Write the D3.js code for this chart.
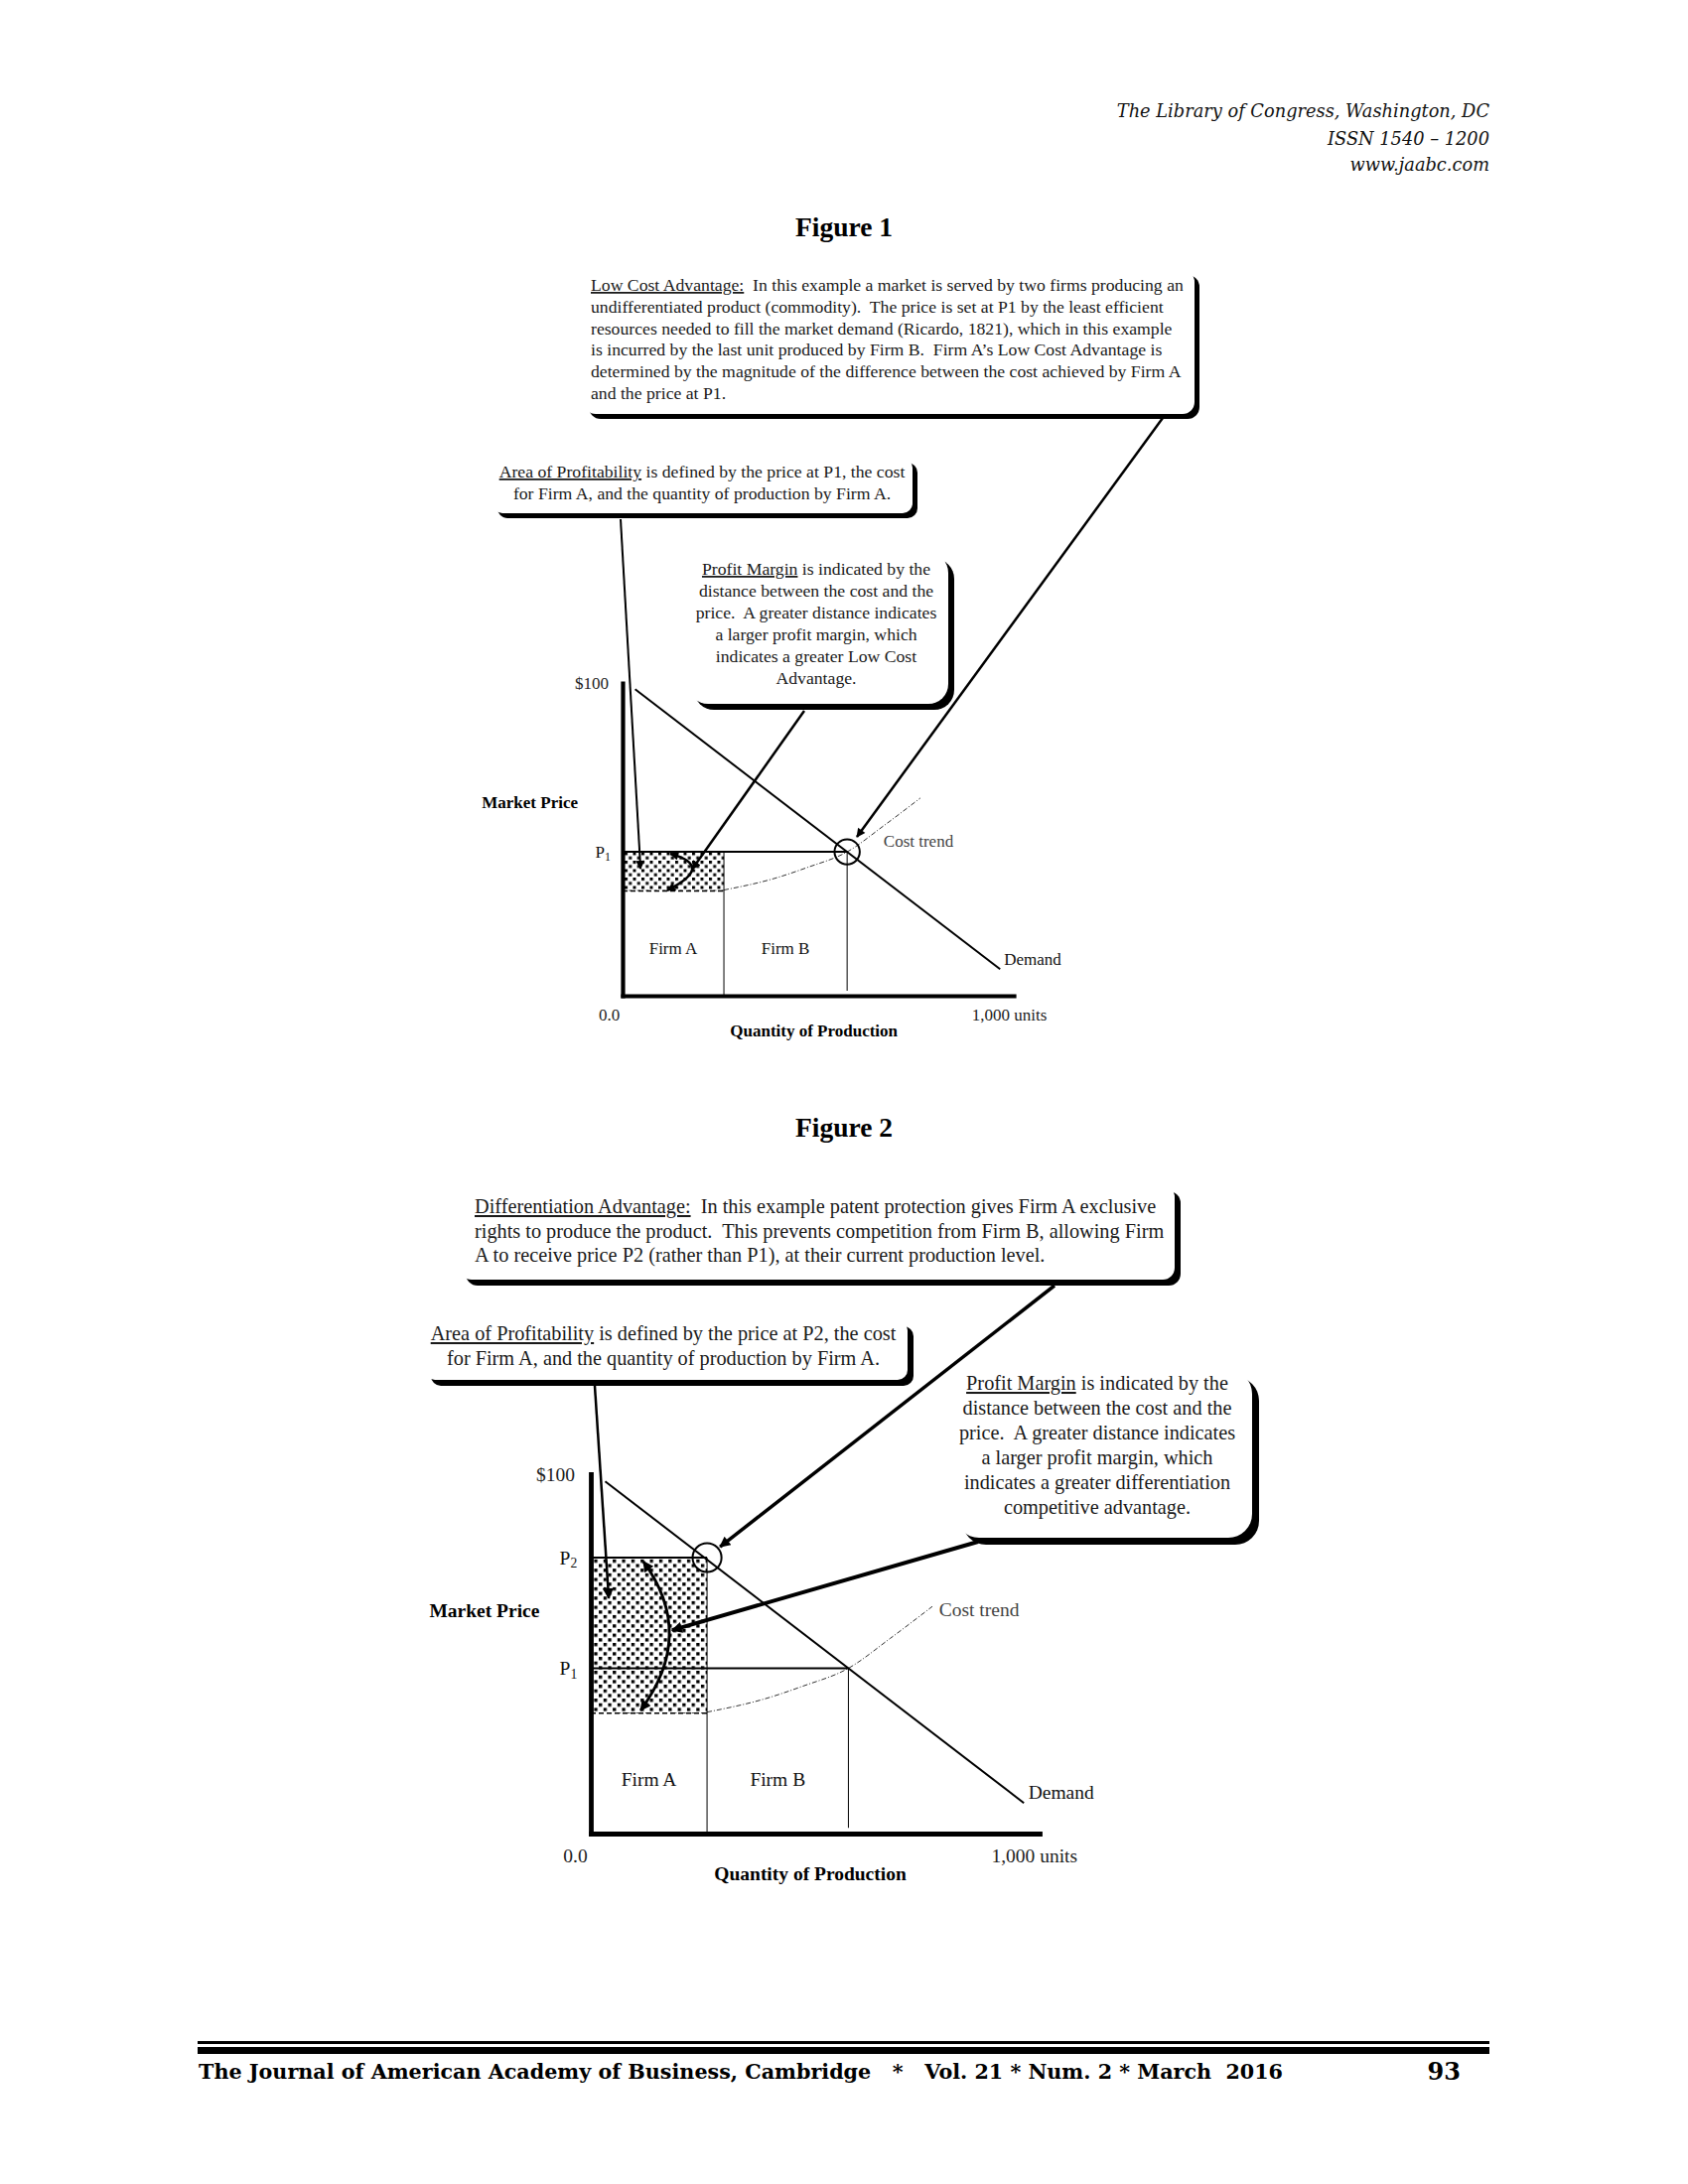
<!DOCTYPE html>
<html><head><meta charset="utf-8">
<script src="https://cdn.jsdelivr.net/npm/d3@7"></script>
<style>body{margin:0;background:#fff}</style>
</head><body>
<script>
// ---------------- data ----------------
const firms = ["Firm A", "Firm B"];
const firmBounds = [0, 259, 574];            // quantity where each firm's output ends (units)
const quantityTicks = ["0.0", "1,000 units"];
const quantityTickValues = [0, 1000];
const priceTicks = ["$100"];
const priceTickValues = [100];
const priceP1 = 46;
const priceP2 = 76.8;
const costFirmA = 33.5;
const demandPoints = [[32, 98], [965, 8.5]];
const costTrendPoints = [[259, 33.8], [388, 37.5], [472, 41], [574, 46], [667, 54.3], [761, 63.2]];

const headerLines = ["The Library of Congress, Washington, DC", "ISSN 1540 \u2013 1200", "www.jaabc.com"];
const footerText = "The Journal of American Academy of Business, Cambridge   *   Vol. 21 * Num. 2 * March  2016";
const pageNumber = "93";
const figureTitles = ["Figure 1", "Figure 2"];

const fig1Callouts = [
  {head: "Low Cost Advantage:", lines: [
    "  In this example a market is served by two firms producing an",
    "undifferentiated product (commodity).  The price is set at P1 by the least efficient",
    "resources needed to fill the market demand (Ricardo, 1821), which in this example",
    "is incurred by the last unit produced by Firm B.  Firm A\u2019s Low Cost Advantage is",
    "determined by the magnitude of the difference between the cost achieved by Firm A",
    "and the price at P1."]},
  {head: "Area of Profitability", lines: [
    " is defined by the price at P1, the cost",
    "for Firm A, and the quantity of production by Firm A."]},
  {head: "Profit Margin", lines: [
    " is indicated by the",
    "distance between the cost and the",
    "price.  A greater distance indicates",
    "a larger profit margin, which",
    "indicates a greater Low Cost",
    "Advantage."]}
];
const fig2Callouts = [
  {head: "Differentiation Advantage:", lines: [
    "  In this example patent protection gives Firm A exclusive",
    "rights to produce the product.  This prevents competition from Firm B, allowing Firm",
    "A to receive price P2 (rather than P1), at their current production level."]},
  {head: "Area of Profitability", lines: [
    " is defined by the price at P2, the cost",
    "for Firm A, and the quantity of production by Firm A."]},
  {head: "Profit Margin", lines: [
    " is indicated by the",
    "distance between the cost and the",
    "price.  A greater distance indicates",
    "a larger profit margin, which",
    "indicates a greater differentiation",
    "competitive advantage."]}
];

// ---------------- layout ----------------
const SERIF = "'Liberation Serif','Times New Roman',serif";
const svg = d3.select("body").append("svg").attr("width", 1700).attr("height", 2200)
  .style("background", "#fff");
const defs = svg.append("defs");

function makePattern(id, s) {
  const p = defs.append("pattern").attr("id", id).attr("patternUnits", "userSpaceOnUse")
    .attr("width", 8.5 * s).attr("height", 8.5 * s);
  p.append("rect").attr("width", 8.5 * s).attr("height", 8.5 * s).attr("fill", "#fff");
  p.append("rect").attr("x", 0).attr("y", 0).attr("width", 3 * s).attr("height", 3 * s).attr("fill", "#000");
  p.append("rect").attr("x", 4.25 * s).attr("y", 4.25 * s).attr("width", 3 * s).attr("height", 3 * s).attr("fill", "#000");
}
function makeMarker(id, w, h) {
  defs.append("marker").attr("id", id).attr("viewBox", "0 0 10 10")
    .attr("markerUnits", "userSpaceOnUse").attr("markerWidth", w).attr("markerHeight", h)
    .attr("refX", 9).attr("refY", 5).attr("orient", "auto-start-reverse")
    .append("path").attr("d", "M0,0L10,5L0,10z").attr("fill", "#000");
}
makePattern("dots1", 1);
makePattern("dots2", 1.1);
makeMarker("ah1", 11, 9);
makeMarker("ah2", 14, 11);

// header
headerLines.forEach((t, i) => {
  svg.append("text").attr("x", 1500).attr("y", [118, 146, 172][i]).attr("text-anchor", "end")
    .attr("font-family", "'DejaVu Serif',serif").attr("font-style", "italic").attr("font-size", 17.8)
    .attr("fill", "#111").text(t);
});
// figure titles
figureTitles.forEach((t, i) => {
  svg.append("text").attr("x", 850).attr("y", [238, 1145][i]).attr("text-anchor", "middle")
    .attr("font-family", SERIF).attr("font-weight", "bold").attr("font-size", 27.5).attr("fill", "#000").text(t);
});
// footer
svg.append("rect").attr("x", 199).attr("y", 2056).attr("width", 1301).attr("height", 3).attr("fill", "#000");
svg.append("rect").attr("x", 199).attr("y", 2062).attr("width", 1301).attr("height", 7).attr("fill", "#000");
svg.append("text").attr("x", 200).attr("y", 2094).attr("font-family", "'DejaVu Serif',serif").attr("font-weight", "bold")
  .attr("font-size", 21).attr("textLength", 1092).attr("lengthAdjust", "spacingAndGlyphs")
  .style("white-space", "pre").attr("fill", "#000").text(footerText);
svg.append("text").attr("x", 1471).attr("y", 2095).attr("text-anchor", "end").attr("font-family", "'DejaVu Serif',serif")
  .attr("font-weight", "bold").attr("font-size", 24).attr("fill", "#000").text(pageNumber);

function drawBox(g, b, callout) {
  g.append("rect").attr("x", b.x + b.sh).attr("y", b.y + b.sh).attr("width", b.w).attr("height", b.h)
    .attr("rx", b.r).attr("fill", "#000");
  g.append("rect").attr("x", b.x).attr("y", b.y).attr("width", b.w).attr("height", b.h)
    .attr("rx", b.r).attr("fill", "#fff");
  callout.lines.forEach((line, i) => {
    const t = g.append("text").attr("x", b.tx).attr("y", b.base + i * b.lh)
      .attr("text-anchor", b.anchor).attr("font-family", SERIF).attr("font-size", b.fs)
      .attr("fill", "#1a1a1a").style("white-space", "pre");
    if (i === 0) t.append("tspan").style("text-decoration", "underline").text(callout.head);
    t.append("tspan").text(line);
  });
}

function drawFigure(c) {
  const g = svg.append("g");
  const k = c.k;
  const x = d3.scaleLinear().domain([0, 1000]).range([c.x0, c.x1]);
  const y = d3.scaleLinear().domain([0, 100]).range([c.yB, c.yT]);
  const fs = 17 * k;
  const P = (d) => [x(d[0]), y(d[1])];

  // hatched area of profitability
  g.append("rect").attr("x", x(firmBounds[0])).attr("y", y(c.topPrice))
    .attr("width", x(firmBounds[1]) - x(firmBounds[0])).attr("height", y(costFirmA) - y(c.topPrice))
    .attr("fill", `url(#${c.pattern})`);
  // cost for Firm A (dashed rect bottom)
  g.append("line").attr("x1", x(firmBounds[0])).attr("x2", x(firmBounds[1]))
    .attr("y1", y(costFirmA)).attr("y2", y(costFirmA))
    .attr("stroke", "#000").attr("stroke-width", 1.6).attr("stroke-dasharray", "5,3");
  // cost trend
  g.append("path").attr("d", d3.line().x(d => x(d[0])).y(d => y(d[1])).curve(d3.curveMonotoneX)(costTrendPoints))
    .attr("fill", "none").attr("stroke", "#333").attr("stroke-width", 1).attr("stroke-dasharray", "5,2,1,2");
  // firm divider
  g.append("line").attr("x1", x(firmBounds[1])).attr("x2", x(firmBounds[1]))
    .attr("y1", y(c.topPrice)).attr("y2", y(0)).attr("stroke", "#000").attr("stroke-width", 1);
  // end of Firm B production
  g.append("line").attr("x1", x(firmBounds[2])).attr("x2", x(firmBounds[2]))
    .attr("y1", y(priceP1)).attr("y2", y(0) - 5 * k).attr("stroke", "#000").attr("stroke-width", 1);
  // price lines
  c.priceLines.forEach(p => {
    g.append("line").attr("x1", x(0)).attr("x2", x(p.until)).attr("y1", y(p.v)).attr("y2", y(p.v))
      .attr("stroke", "#000").attr("stroke-width", 2);
    const t = g.append("text").attr("x", x(0) - 12 * k).attr("y", y(p.v)).attr("dy", "0.35em")
      .attr("text-anchor", "end").attr("font-family", SERIF).attr("font-size", fs).attr("fill", "#111");
    t.append("tspan").text("P");
    t.append("tspan").attr("font-size", fs * 0.7).attr("dy", "0.25em").text(p.sub);
  });
  // demand
  g.append("path").attr("d", d3.line().x(d => x(d[0])).y(d => y(d[1]))(demandPoints))
    .attr("fill", "none").attr("stroke", "#000").attr("stroke-width", 2);
  // circle
  g.append("circle").attr("cx", x(c.circle[0])).attr("cy", y(c.circle[1])).attr("r", 12.7 * k)
    .attr("fill", "none").attr("stroke", "#000").attr("stroke-width", 2);

  // axes
  const yAxis = d3.axisLeft(y).tickValues(priceTickValues).tickFormat((d, i) => priceTicks[i])
    .tickSize(0).tickSizeOuter(0).tickPadding(14 * k);
  const ya = g.append("g").attr("transform", `translate(${c.x0},0)`).call(yAxis);
  const xAxis = d3.axisBottom(x).tickValues(quantityTickValues).tickFormat((d, i) => quantityTicks[i])
    .tickSize(0).tickSizeOuter(0).tickPadding(12.9 * k);
  const xa = g.append("g").attr("transform", `translate(0,${c.yB})`).call(xAxis);
  [ya, xa].forEach(a => {
    a.attr("font-family", SERIF).attr("font-size", fs);
    a.select(".domain").attr("stroke", "#000").attr("stroke-width", 4.2 * k).attr("stroke-linecap", "square");
    a.selectAll("text").attr("fill", "#222");
  });
  xa.selectAll(".tick text").attr("dx", (d, i) => i === 0 ? -14 * k : -5 * k);

  // labels
  g.append("text").attr("x", c.x0 - 45 * k).attr("y", y(62)).attr("dy", "0.35em").attr("text-anchor", "end")
    .attr("font-family", SERIF).attr("font-weight", "bold").attr("font-size", fs).attr("fill", "#000").text("Market Price");
  g.append("text").attr("x", x(489)).attr("y", c.yB + 35 * k).attr("dy", "0.35em").attr("text-anchor", "middle")
    .attr("font-family", SERIF).attr("font-weight", "bold").attr("font-size", fs).attr("fill", "#000").text("Quantity of Production");
  firms.forEach((f, i) => {
    g.append("text").attr("x", x((firmBounds[i] + firmBounds[i + 1]) / 2)).attr("y", y(15.2)).attr("dy", "0.35em")
      .attr("text-anchor", "middle").attr("font-family", SERIF).attr("font-size", fs).attr("fill", "#111").text(f);
  });
  g.append("text").attr("x", x(975)).attr("y", y(11.6)).attr("dy", "0.35em")
    .attr("font-family", SERIF).attr("font-size", fs).attr("fill", "#111").text("Demand");
  g.append("text").attr("x", x(c.costLabel[0])).attr("y", y(c.costLabel[1])).attr("dy", "0.35em")
    .attr("font-family", SERIF).attr("font-size", fs).attr("fill", "#444").text("Cost trend");

  // arrows from callouts
  c.arrows.forEach(a => {
    const e = P(a.to);
    g.append("line").attr("x1", a.from[0]).attr("y1", a.from[1]).attr("x2", e[0]).attr("y2", e[1])
      .attr("stroke", "#000").attr("stroke-width", a.w).attr("marker-end", `url(#${c.marker})`);
  });
  // curved double arrow (profit margin span)
  const top = P(c.span[0]), bot = P(c.span[1]), mid = P(c.span[2]);
  const cx = 2 * mid[0] - (top[0] + bot[0]) / 2, cy = 2 * mid[1] - (top[1] + bot[1]) / 2;
  g.append("path").attr("d", `M${top[0]},${top[1]}Q${cx},${cy} ${bot[0]},${bot[1]}`)
    .attr("fill", "none").attr("stroke", "#000").attr("stroke-width", 2.5 * k)
    .attr("marker-start", `url(#${c.marker})`).attr("marker-end", `url(#${c.marker})`);

  // callout boxes
  c.boxes.forEach((b, i) => drawBox(g, b, c.callouts[i]));
}

drawFigure({
  k: 1, x0: 627, x1: 1021, yB: 1003, yT: 688, pattern: "dots1", marker: "ah1",
  topPrice: priceP1,
  priceLines: [{v: priceP1, until: firmBounds[2], sub: "1"}],
  circle: [firmBounds[2], priceP1],
  costLabel: [667, 49.5],
  arrows: [
    {from: [625, 523], to: [46, 40.6], w: 2},
    {from: [810, 716], to: [178, 40.5], w: 2.5},
    {from: [1171, 421], to: [599, 50.8], w: 2.5}
  ],
  span: [[122, 45.4], [114, 33.7], [178, 40.5]],
  callouts: fig1Callouts,
  boxes: [
    {x: 588, y: 272, w: 615, h: 145, r: 12, sh: 5, tx: 595, anchor: "start", base: 293, lh: 21.8, fs: 17.7},
    {x: 496, y: 461, w: 423, h: 56, r: 10, sh: 5, tx: 707, anchor: "middle", base: 481, lh: 22, fs: 17.7},
    {x: 693, y: 557, w: 262, h: 152, r: 20, sh: 6, tx: 822, anchor: "middle", base: 579, lh: 22, fs: 17.7}
  ]
});

drawFigure({
  k: 1.147, x0: 595, x1: 1047, yB: 1847, yT: 1485, pattern: "dots2", marker: "ah2",
  topPrice: priceP2,
  priceLines: [{v: priceP2, until: firmBounds[1], sub: "2"}, {v: priceP1, until: firmBounds[2], sub: "1"}],
  circle: [firmBounds[1], priceP2],
  costLabel: [776, 62.4],
  arrows: [
    {from: [599, 1396], to: [40, 65.5], w: 2.5},
    {from: [985, 1553], to: [181, 56.6], w: 4},
    {from: [1062, 1295], to: [288, 79.8], w: 3.5}
  ],
  span: [[117, 75.7], [111, 34.3], [175, 55.2]],
  callouts: fig2Callouts,
  boxes: [
    {x: 463, y: 1194, w: 720, h: 95, r: 12, sh: 6, tx: 478, anchor: "start", base: 1222, lh: 24.5, fs: 20.3},
    {x: 428, y: 1330, w: 486, h: 60, r: 10, sh: 6, tx: 668, anchor: "middle", base: 1350, lh: 25, fs: 20.3},
    {x: 962, y: 1380, w: 299, h: 169, r: 24, sh: 7, tx: 1105, anchor: "middle", base: 1400, lh: 25, fs: 20.3}
  ]
});
</script>
</body></html>
